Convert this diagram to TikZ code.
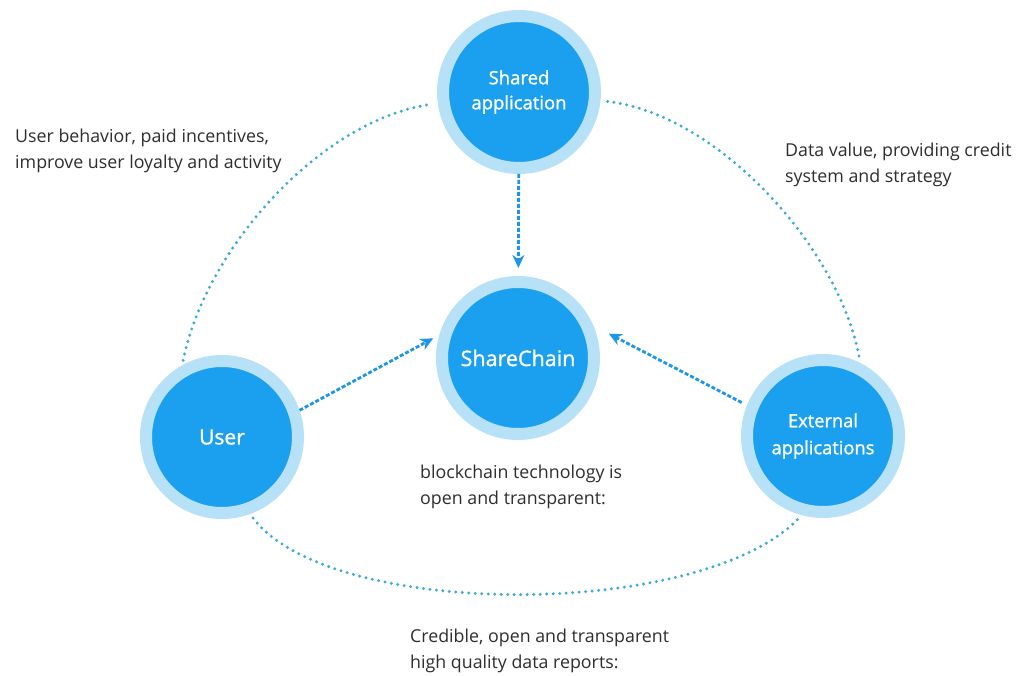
\documentclass[tikz,border=0pt]{standalone}
\usepackage{fontspec}
\setmainfont{Open Sans}
\newfontfamily\ballfont[FakeBold=1.2]{Open Sans}
\usetikzlibrary{arrows.meta}
\definecolor{ballblue}{RGB}{27,160,240}
\definecolor{ringblue}{RGB}{183,225,247}
\definecolor{dotblue}{RGB}{60,170,218}
\definecolor{arrowblue}{RGB}{30,150,232}
\definecolor{textgrey}{RGB}{45,45,45}
\begin{document}
\begin{tikzpicture}[x=1pt,y=-1pt,
    ball/.style={circle,fill=ballblue,draw=ringblue,line width=12pt,minimum size=152pt,
        inner sep=0pt,text=white,align=center,font=\ballfont\fontsize{18.5}{25}\selectfont},
    dotline/.style={dotblue,line width=3.3pt,line cap=round,dash pattern=on 0pt off 6.5pt},
    flow/.style={arrowblue,line width=2.8pt,dash pattern=on 4pt off 2pt,
        -{Stealth[length=13pt,width=12pt]}},
    note/.style={textgrey,align=left,inner sep=0pt,anchor=north west,
        font=\fontsize{17.8}{26}\selectfont}]
    \useasboundingbox (0,0) rectangle (1026,676);

    \node[ball] (shared) at (519,92) {Shared\\application};
    \node[ball,font=\ballfont\fontsize{21.5}{24}\selectfont] (chain) at (518,358) {ShareChain};
    \node[ball,font=\ballfont\fontsize{21}{24}\selectfont] (user) at (222,437) {User};
    \node[ball,font=\ballfont\fontsize{18.3}{27}\selectfont] (ext) at (823,436) {External\\applications};

    \draw[dotline,shorten <=5pt,shorten >=7pt] (user.119) .. controls (205,250) and (320,120) .. (shared.188);
    \draw[dotline,shorten <=7pt,shorten >=5pt] (shared.-6) .. controls (720,115) and (840,250) .. (ext.63);
    \draw[dotline,shorten <=5pt,shorten >=5pt] (user.-70) .. controls (330,620) and (700,620) .. (ext.-105);

    \draw[flow,shorten >=8pt] (shared) -- (chain);
    \draw[flow] (user.19) -- ([shift={(165:5pt)}]chain.167);
    \draw[flow,shorten <=6pt] (ext.158) -- ([shift={(15:12pt)}]chain.15);

    \node[note] (loyalty) at (15,129) {User behavior, paid incentives,\\improve user loyalty and activity};
    \node[note] (credit) at (785,143) {Data value, providing credit\\system and strategy};
    \node[note] (open) at (420,465) {blockchain technology is\\open and transparent:};
    \node[note] (report) at (410,629) {Credible, open and transparent\\high quality data reports:};
\end{tikzpicture}
\end{document}
